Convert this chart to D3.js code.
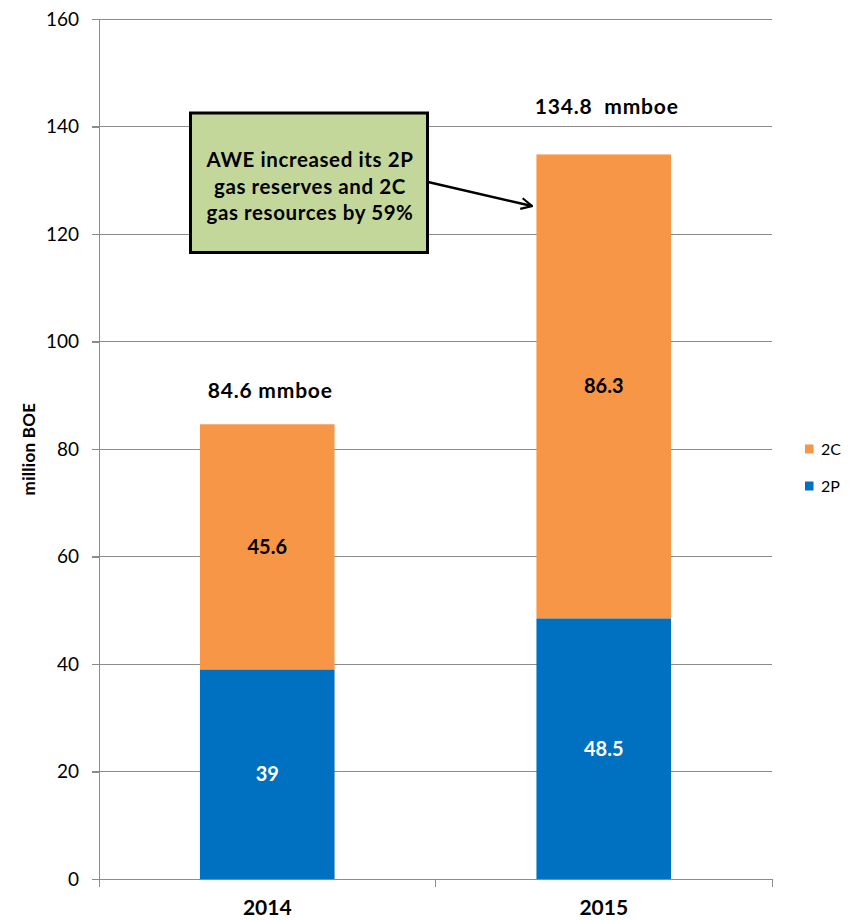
<!DOCTYPE html>
<html><head><meta charset="utf-8">
<script src="https://cdn.jsdelivr.net/npm/d3@7"></script>
<style>body{margin:0;background:#fff}svg{display:block;font-family:Lato,"Open Sans",sans-serif}</style>
</head><body>
<script>
const categories = ["2014", "2015"];
const series = ["2P", "2C"];
const values2P = [39, 48.5];
const values2C = [45.6, 86.3];
const totalLabels = ["84.6 mmboe", "134.8  mmboe"];
const yTicks = [0, 20, 40, 60, 80, 100, 120, 140, 160];
const colors = {"2P": "#0070C0", "2C": "#F79646"};
const annotation = ["AWE increased its 2P", "gas reserves and 2C", "gas resources by 59%"];

const W = 849, H = 920;
const svg = d3.select("body").append("svg").attr("width", W).attr("height", H);
const x = d3.scaleBand().domain(categories).range([99, 772]).padding(0);
const y = d3.scaleLinear().domain([0, 160]).range([879, 19]);
const bw = x.bandwidth() * 0.4;
const totalOffsets = [26, 40];

// gridlines
svg.append("g").selectAll("line").data(yTicks.filter(d => d > 0)).join("line")
  .attr("x1", 92).attr("x2", 772).attr("y1", d => y(d)).attr("y2", d => y(d))
  .attr("stroke", "#8c8c8c").attr("stroke-width", 1).attr("shape-rendering", "crispEdges");

// y axis
const ya = svg.append("g").attr("transform", "translate(99,0)")
  .call(d3.axisLeft(y).tickValues(yTicks).tickSize(7).tickPadding(13));
ya.select(".domain").attr("stroke", "#8c8c8c").attr("shape-rendering", "crispEdges");
ya.selectAll(".tick line").attr("stroke", "#8c8c8c").attr("shape-rendering", "crispEdges");
ya.selectAll("text").attr("font-size", 19).attr("fill", "#000").attr("font-family", "Lato,sans-serif");

// x axis
const xa = svg.append("g").attr("transform", "translate(0,879)")
  .call(d3.axisBottom(x).tickSize(0));
xa.select(".domain").attr("stroke", "#8c8c8c").attr("shape-rendering", "crispEdges");
xa.selectAll("text").attr("y", 36).attr("dy", 0).attr("font-size", 21).attr("font-weight", "bold")
  .attr("fill", "#000").attr("font-family", "Lato,sans-serif");
const boundaries = [x.range()[0], ...categories.map(c => x(c) + x.bandwidth())];
svg.append("g").selectAll("line").data(boundaries).join("line")
  .attr("x1", d => d).attr("x2", d => d).attr("y1", 879).attr("y2", 887)
  .attr("stroke", "#8c8c8c").attr("shape-rendering", "crispEdges");

// stacked bars
const rows = categories.map((c, i) => ({cat: c, "2P": values2P[i], "2C": values2C[i]}));
const stack = d3.stack().keys(series)(rows);
const g = svg.append("g");
stack.forEach(s => {
  g.selectAll(null).data(s).join("rect")
    .attr("x", d => x(d.data.cat) + (x.bandwidth() - bw) / 2)
    .attr("width", bw)
    .attr("y", d => y(d[1]))
    .attr("height", d => y(d[0]) - y(d[1]))
    .attr("fill", colors[s.key]);
  g.selectAll(null).data(s).join("text")
    .attr("x", d => x(d.data.cat) + x.bandwidth() / 2)
    .attr("y", d => (y(d[0]) + y(d[1])) / 2)
    .attr("dy", "0.35em").attr("text-anchor", "middle")
    .attr("font-size", 20).attr("font-weight", "bold")
    .attr("fill", s.key === "2P" ? "#fff" : "#000")
    .text(d => d.data[s.key]);
});

// totals
svg.append("g").selectAll("text").data(categories).join("text")
  .attr("x", c => x(c) + x.bandwidth() / 2 + 3)
  .attr("y", (c, i) => y(values2P[i] + values2C[i]) - totalOffsets[i])
  .attr("text-anchor", "middle").attr("font-size", 21).attr("font-weight", "bold")
  .attr("letter-spacing", 0.8)
  .style("white-space", "pre")
  .text((c, i) => totalLabels[i]);

// y label
svg.append("text").attr("transform", "translate(35,449) rotate(-90)")
  .attr("text-anchor", "middle").attr("font-size", 17).attr("font-weight", "bold")
  .attr("letter-spacing", 0.3)
  .text("million BOE");

// legend
const leg = svg.append("g");
[["2C", 449], ["2P", 486]].forEach(([k, yy]) => {
  leg.append("rect").attr("x", 805).attr("y", yy - 4.5).attr("width", 8.5).attr("height", 9).attr("fill", colors[k]);
  leg.append("text").attr("x", 821).attr("y", yy).attr("dy", "0.36em").attr("font-size", 16).text(k);
});

// annotation arrow
svg.append("defs").append("marker").attr("id", "arr").attr("viewBox", "0 0 12 12")
  .attr("refX", 11).attr("refY", 6).attr("markerWidth", 13).attr("markerHeight", 13)
  .attr("markerUnits", "userSpaceOnUse").attr("orient", "auto")
  .append("path").attr("d", "M1,1 L11,6 L1,11").attr("fill", "none").attr("stroke", "#000").attr("stroke-width", 2);
svg.append("line").attr("x1", 428).attr("y1", 182).attr("x2", 532).attr("y2", 206)
  .attr("stroke", "#000").attr("stroke-width", 2.5).attr("marker-end", "url(#arr)");

// annotation box
svg.append("rect").attr("x", 190.5).attr("y", 113).attr("width", 237).attr("height", 139.5)
  .attr("fill", "#C4D79B").attr("stroke", "#000").attr("stroke-width", 3);
svg.append("g").selectAll("text").data(annotation).join("text")
  .attr("x", 310).attr("y", (d, i) => 167 + i * 26.5)
  .attr("text-anchor", "middle").attr("font-size", 20.5).attr("font-weight", "bold")
  .attr("letter-spacing", 0.6)
  .text(d => d);
</script>
</body></html>
